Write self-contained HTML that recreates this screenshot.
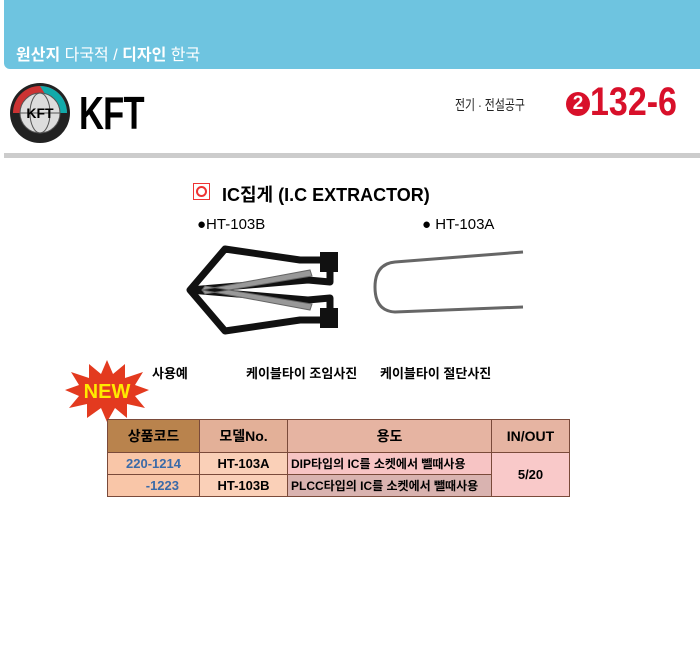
<!DOCTYPE html>
<html><head><meta charset="utf-8"><style>
body{margin:0;width:700px;height:660px;background:#fff;position:relative;overflow:hidden;font-family:"Liberation Sans","Noto Sans CJK KR",sans-serif}
.a{position:absolute;white-space:nowrap}
table{border-collapse:collapse;position:absolute;left:107px;top:419px;font-weight:bold;font-size:13px;table-layout:fixed}
td{border:1px solid #7a4a3a;text-align:center;padding:0;white-space:nowrap;overflow:hidden}
</style></head><body>
<div class="a" style="left:4px;top:0;width:696px;height:69px;background:#6EC4E0;border-bottom-left-radius:6px"></div>
<div class="a" style="left:16px;top:41px;color:#fff;font-size:16px"><b>원산지</b> 다국적 / <b>디자인</b> 한국</div>
<svg class="a" style="left:8px;top:81px" width="64" height="64">
<circle cx="32" cy="32" r="30" fill="#222"/><path d="M5 32a27 27 0 0 1 54 0z" fill="#c33"/><path d="M32 5a27 27 0 0 1 27 27h-10z" fill="#1aa"/>
<circle cx="32" cy="32" r="20" fill="#ddd" stroke="#555"/><ellipse cx="32" cy="32" rx="10" ry="20" fill="none" stroke="#555"/><line x1="12" y1="32" x2="52" y2="32" stroke="#555"/>
<text x="32" y="37" font-size="14" font-weight="bold" text-anchor="middle" fill="#000" font-family="Liberation Sans">KFT</text></svg>
<div class="a" style="left:79px;top:86px;font-size:46px;font-weight:bold;transform:scaleX(0.75);transform-origin:left;letter-spacing:-1px">KFT</div>
<div class="a" style="left:455px;top:95px;font-size:14px;color:#222;transform:scaleX(0.78);transform-origin:left">전기 · 전설공구</div>
<div class="a" style="left:566px;top:92px;width:24px;height:24px;border-radius:50%;background:#d8102a;color:#fff;font-weight:bold;font-size:19px;text-align:center;line-height:24px">2</div>
<div class="a" style="left:590px;top:80px;font-size:40px;font-weight:bold;color:#d8102a;transform:scaleX(0.85);transform-origin:left">132-6</div>
<div class="a" style="left:4px;top:153px;width:696px;height:5px;background:#ccc"></div>
<div class="a" style="left:193px;top:183px;width:17px;height:17px;border:1px solid #e33;box-sizing:border-box"><div style="margin:2px;width:11px;height:11px;border-radius:50%;border:2px solid #e33;box-sizing:border-box"></div></div>
<div class="a" style="left:222px;top:181px;font-size:18px;font-weight:bold">IC집게 (I.C EXTRACTOR)</div>
<div class="a" style="left:197px;top:216px;font-size:15px">●HT-103B</div>
<div class="a" style="left:422px;top:216px;font-size:15px">● HT-103A</div>
<svg class="a" style="left:180px;top:240px" width="360" height="100">
<path d="M10 50 L45 9 L120 20 L150 20 L150 42 L128 40 Z M10 50 L45 91 L120 80 L150 80 L150 58 L128 60 Z" fill="none" stroke="#111" stroke-width="7" stroke-linejoin="round"/>
<path d="M22 50 L130 30 L132 36 L25 54 Z M22 50 L130 70 L132 64 L25 46 Z" fill="#999" stroke="#666"/>
<rect x="140" y="12" width="18" height="20" fill="#111"/><rect x="140" y="68" width="18" height="20" fill="#111"/>
<path d="M343 12 L215 22 Q195 24 195 47 Q195 71 215 72 L343 67" fill="none" stroke="#666" stroke-width="3"/>
</svg>
<div class="a" style="left:152px;top:363px;font-size:13px;font-weight:bold">사용예</div>
<div class="a" style="left:246px;top:363px;font-size:13px;font-weight:bold">케이블타이 조임사진</div>
<div class="a" style="left:380px;top:363px;font-size:13px;font-weight:bold">케이블타이 절단사진</div>
<svg class="a" style="left:65px;top:360px" width="84" height="62"><polygon points="42,0 48,14 60,4 60,18 78,12 70,25 84,30 70,36 80,48 62,44 62,58 50,48 42,62 36,48 22,58 22,44 4,48 14,36 0,30 14,25 6,12 24,18 24,4 36,14" fill="#e33a1f"/><text x="42" y="38" font-size="20" font-weight="bold" fill="#ffea00" text-anchor="middle" font-family="Liberation Sans">NEW</text></svg>
<table>
<tr style="height:33px;font-size:14px"><td style="width:91px;background:#B9834D">상품코드</td><td style="width:87px;background:#E3B098">모델No.</td><td style="width:203px;background:#E6B4A2">용도</td><td style="width:77px;background:#E6B4A2">IN/OUT</td></tr>
<tr style="height:22px"><td style="background:#F9C6A8;color:#3a6aa8">220-1214</td><td style="background:#FAD0B8">HT-103A</td><td style="background:#F7C4C4;text-align:left;padding-left:3px;font-size:12px">DIP타입의 IC를 소켓에서 뺄때사용</td><td rowspan="2" style="background:#F9C9C9">5/20</td></tr>
<tr style="height:22px"><td style="background:#F9C6A8;color:#3a6aa8;text-align:right;padding-right:20px">-1223</td><td style="background:#FAD0B8">HT-103B</td><td style="background:#D9B3B0;text-align:left;padding-left:3px;font-size:12px">PLCC타입의 IC를 소켓에서 뺄때사용</td></tr>
</table>
</body></html>
